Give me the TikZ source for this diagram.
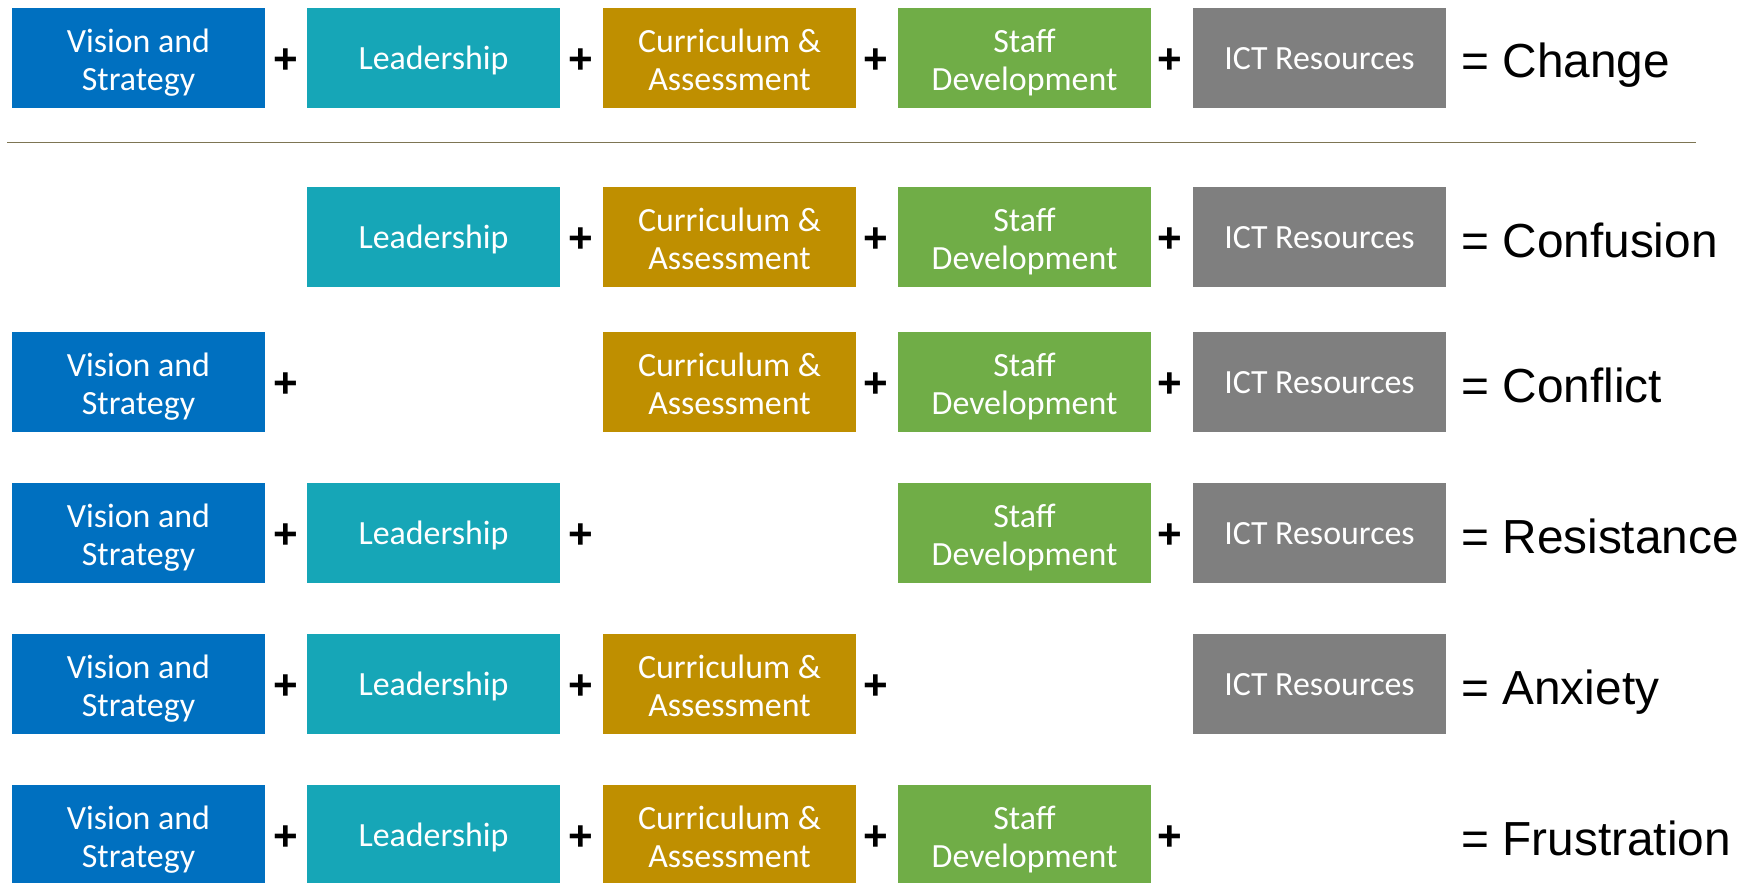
\documentclass[tikz,border=0pt]{standalone}
\usepackage{fontspec}
\setmainfont{Carlito}
\newfontfamily\arialfont{Liberation Sans}
\definecolor{visionblue}{HTML}{0070C0}
\definecolor{leadteal}{HTML}{16A6B7}
\definecolor{currgold}{HTML}{BF8F00}
\definecolor{staffgreen}{HTML}{70AD47}
\definecolor{ictgray}{HTML}{7F7F7F}
\definecolor{ruleolive}{HTML}{7D7553}
% two lines in a box, pushed down a little
\newcommand{\twolines}[2]{\rule{0pt}{20.5pt}#1\\#2\rule[-5pt]{0pt}{0pt}}
\begin{document}
\begin{tikzpicture}[x=0.02cm, y=-0.02cm,
    box/.style = {fill=#1, text=white, minimum width=5.06cm, minimum height=2cm, inner sep=0pt, align=center,
        font=\fontsize{19.3}{21.5}\selectfont,
        execute at begin node={\rule{0pt}{18.5pt}}, execute at end node={\rule[-5pt]{0pt}{0pt}}},
    dbox/.style = {fill=#1, text=white, minimum width=5.06cm, minimum height=2cm, inner sep=0pt, align=center,
        font=\fontsize{19.3}{21.5}\selectfont},
    plus/.style = {inner sep=0pt, yshift=-1.7pt, font=\arialfont\bfseries\fontsize{24}{24}\selectfont},
    result/.style = {anchor=base west, inner sep=0pt, font=\arialfont\fontsize{27.2}{30}\selectfont}]
	\useasboundingbox (0,0) rectangle (1747,882);
	
	% first row: everything together
	\node[dbox=visionblue] (v1) at (138.5,58) {\twolines{Vision and}{Strategy}};
	\node[plus] (p11) at (286,58) {+};
	\node[box=leadteal] (l1) at (433.5,58) {Leadership};
	\node[plus] (p12) at (581,58) {+};
	\node[dbox=currgold] (c1) at (729.5,58) {\twolines{Curriculum \&}{Assessment}};
	\node[plus] (p13) at (876,58) {+};
	\node[dbox=staffgreen] (s1) at (1024.5,58) {\twolines{Staff}{Development}};
	\node[plus] (p14) at (1170,58) {+};
	\node[box=ictgray] (i1) at (1319.5,58) {ICT Resources};
	\node[result] (e1) at (1461,78) {= Change};
	
	\coordinate (ruleL) at (7,142.5);
	\coordinate (ruleR) at (1696,142.5);
	\draw[ruleolive, line width=1.1pt] (ruleL) -- (ruleR);
	
	% no vision
	\node[box=leadteal] (l2) at (433.5,237) {Leadership};
	\node[plus] (p22) at (581,237) {+};
	\node[dbox=currgold] (c2) at (729.5,237) {\twolines{Curriculum \&}{Assessment}};
	\node[plus] (p23) at (876,237) {+};
	\node[dbox=staffgreen] (s2) at (1024.5,237) {\twolines{Staff}{Development}};
	\node[plus] (p24) at (1170,237) {+};
	\node[box=ictgray] (i2) at (1319.5,237) {ICT Resources};
	\node[result] (e2) at (1461,257) {= Confusion};
	
	% no leadership
	\node[dbox=visionblue] (v3) at (138.5,382) {\twolines{Vision and}{Strategy}};
	\node[plus] (p31) at (286,382) {+};
	\node[dbox=currgold] (c3) at (729.5,382) {\twolines{Curriculum \&}{Assessment}};
	\node[plus] (p33) at (876,382) {+};
	\node[dbox=staffgreen] (s3) at (1024.5,382) {\twolines{Staff}{Development}};
	\node[plus] (p34) at (1170,382) {+};
	\node[box=ictgray] (i3) at (1319.5,382) {ICT Resources};
	\node[result] (e3) at (1461,402) {= Conflict};
	
	% no curriculum
	\node[dbox=visionblue] (v4) at (138.5,533) {\twolines{Vision and}{Strategy}};
	\node[plus] (p41) at (286,533) {+};
	\node[box=leadteal] (l4) at (433.5,533) {Leadership};
	\node[plus] (p42) at (581,533) {+};
	\node[dbox=staffgreen] (s4) at (1024.5,533) {\twolines{Staff}{Development}};
	\node[plus] (p44) at (1170,533) {+};
	\node[box=ictgray] (i4) at (1319.5,533) {ICT Resources};
	\node[result] (e4) at (1461,553) {= Resistance};
	
	% no staff development
	\node[dbox=visionblue] (v5) at (138.5,684) {\twolines{Vision and}{Strategy}};
	\node[plus] (p51) at (286,684) {+};
	\node[box=leadteal] (l5) at (433.5,684) {Leadership};
	\node[plus] (p52) at (581,684) {+};
	\node[dbox=currgold] (c5) at (729.5,684) {\twolines{Curriculum \&}{Assessment}};
	\node[plus] (p53) at (876,684) {+};
	\node[box=ictgray] (i5) at (1319.5,684) {ICT Resources};
	\node[result] (e5) at (1461,704) {= Anxiety};
	
	% no ICT
	\node[dbox=visionblue] (v6) at (138.5,835) {\twolines{Vision and}{Strategy}};
	\node[plus] (p61) at (286,835) {+};
	\node[box=leadteal] (l6) at (433.5,835) {Leadership};
	\node[plus] (p62) at (581,835) {+};
	\node[dbox=currgold] (c6) at (729.5,835) {\twolines{Curriculum \&}{Assessment}};
	\node[plus] (p63) at (876,835) {+};
	\node[dbox=staffgreen] (s6) at (1024.5,835) {\twolines{Staff}{Development}};
	\node[plus] (p64) at (1170,835) {+};
	\node[result] (e6) at (1461,855) {= Frustration};
	
\end{tikzpicture}
\end{document}
